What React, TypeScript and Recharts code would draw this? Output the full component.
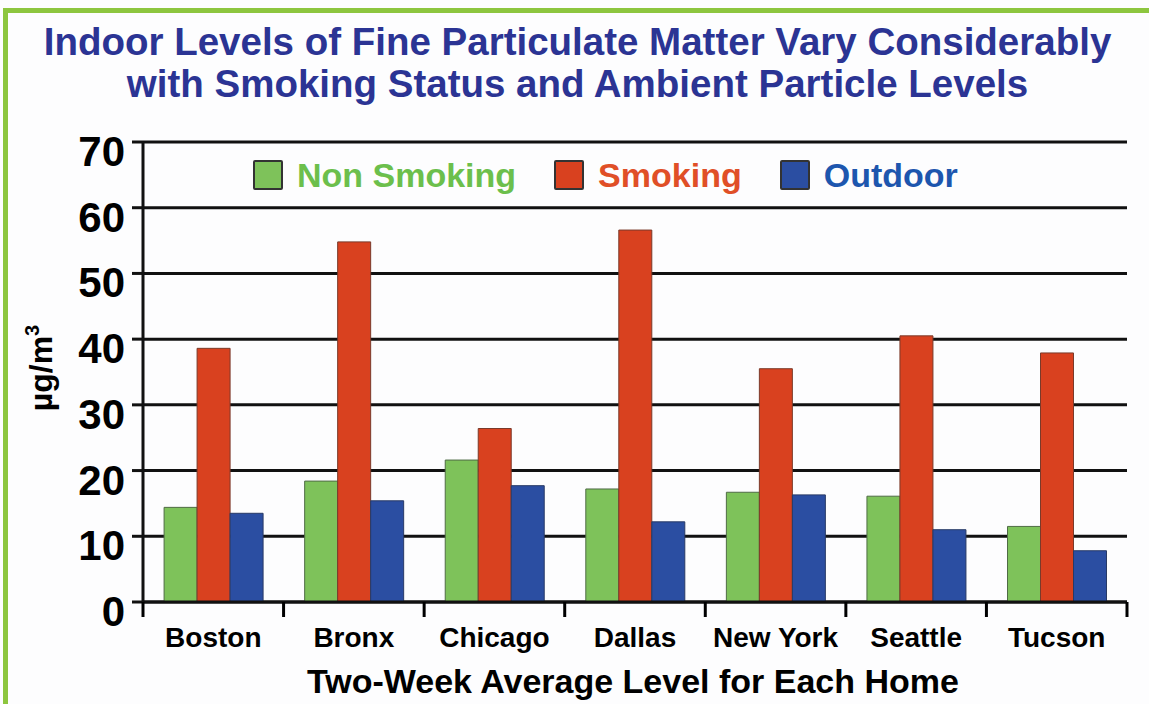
import React from 'react';
import { BarChart, Bar, XAxis, YAxis, CartesianGrid, Legend } from 'recharts';

const cities = ['Boston', 'Bronx', 'Chicago', 'Dallas', 'New York', 'Seattle', 'Tucson'];
const nonSmoking = [14.4, 18.4, 21.6, 17.2, 16.7, 16.1, 11.5];
const smoking = [38.6, 54.8, 26.4, 56.6, 35.5, 40.5, 37.9];
const outdoor = [13.5, 15.4, 17.7, 12.2, 16.3, 11.0, 7.8];
const yTicks = [0, 10, 20, 30, 40, 50, 60, 70];
const seriesNames = ['Non Smoking', 'Smoking', 'Outdoor'];

const data = cities.map((city, i) => ({
  city,
  nonSmoking: nonSmoking[i],
  smoking: smoking[i],
  outdoor: outdoor[i],
}));

const W = 1149;
const H = 704;
const M = { top: 142, right: 22, bottom: 42, left: 0 };
const Y_AXIS_W = 143;
const X_AXIS_H = 60;
const FONT = '"Liberation Sans", Arial, Helvetica, sans-serif';
const BAND = (W - M.left - Y_AXIS_W - M.right) / cities.length;

const fills = ['#7ec25a', '#d9411f', '#2b4ea2'];
const strokes = ['#4f6b45', '#7a3a2a', '#283a66'];
const legendText = ['#6cbf4c', '#e04f27', '#1d56ae'];

const YTick = (props: any) => {
  const { x, y, payload } = props;
  return (
    <text x={x} y={y} dy={24} textAnchor="end" fontSize={42} fontWeight="bold" fill="#000" fontFamily={FONT}>
      {payload.value}
    </text>
  );
};

const XTick = (props: any) => {
  const { x, y, payload, index } = props;
  const left = x - BAND / 2;
  const right = x + BAND / 2;
  return (
    <g>
      <line x1={left} x2={left} y1={y} y2={y + 15} stroke="#000" strokeWidth={3} />
      {index === cities.length - 1 && (
        <line x1={right} x2={right} y1={y} y2={y + 15} stroke="#000" strokeWidth={3} />
      )}
      <text x={x} y={y} dy={45} textAnchor="middle" fontSize={28} fontWeight="bold" fill="#000" fontFamily={FONT}>
        {payload.value}
      </text>
    </g>
  );
};

const LegendContent = (props: any) => {
  const items = [...(props.payload || [])].sort(
    (a: any, b: any) => seriesNames.indexOf(a.value) - seriesNames.indexOf(b.value)
  );
  return (
    <div style={{ display: 'flex', alignItems: 'center', fontFamily: FONT }}>
      {items.map((entry: any) => {
        const i = seriesNames.indexOf(entry.value);
        return (
          <div key={entry.value} style={{ display: 'flex', alignItems: 'center', marginRight: 38 }}>
            <div
              style={{
                width: 30,
                height: 30,
                background: fills[i],
                border: '2px solid #333',
                borderRadius: 2,
                boxSizing: 'border-box',
                marginRight: 14,
              }}
            />
            <span style={{ fontSize: 34, fontWeight: 'bold', color: legendText[i], lineHeight: '34px' }}>
              {entry.value}
            </span>
          </div>
        );
      })}
    </div>
  );
};

const YLabel = () => (
  <text
    x={52}
    y={368}
    transform="rotate(-90 52 368)"
    textAnchor="middle"
    fontSize={32}
    fontWeight="bold"
    fill="#000"
    fontFamily={FONT}
  >
    µg/m
    <tspan fontSize={20} dy={-13}>3</tspan>
  </text>
);

const XLabel = () => (
  <text x={633} y={693} textAnchor="middle" fontSize={34} fontWeight="bold" fill="#000" fontFamily={FONT}>
    Two-Week Average Level for Each Home
  </text>
);

export default function App() {
  return (
    <div
      style={{
        position: 'absolute',
        left: 0,
        top: 0,
        width: W,
        height: H,
        background: '#fdfdfe',
        overflow: 'hidden',
        fontFamily: FONT,
      }}
    >
      <div
        style={{
          position: 'absolute',
          left: 3,
          top: 8,
          width: W,
          height: H,
          borderTop: '5px solid #8dc63f',
          borderLeft: '5px solid #8dc63f',
          boxSizing: 'border-box',
        }}
      />
      <div
        style={{
          position: 'absolute',
          left: 0,
          top: 21,
          width: 1155,
          textAlign: 'center',
          color: '#2b3494',
          fontSize: 38.5,
          fontWeight: 'bold',
          lineHeight: '42px',
          fontFamily: FONT,
        }}
      >
        <div>Indoor Levels of Fine Particulate Matter Vary Considerably</div>
        <div>with Smoking Status and Ambient Particle Levels</div>
      </div>
      <div style={{ position: 'absolute', left: 0, top: 0 }}>
        <BarChart width={W} height={H} data={data} margin={M} barCategoryGap="15%" barGap={0}>
          <CartesianGrid vertical={false} stroke="#111" strokeWidth={3} yAxisId="left" />
          <XAxis
            dataKey="city"
            height={X_AXIS_H}
            interval={0}
            axisLine={{ stroke: '#111', strokeWidth: 3 }}
            tickLine={false}
            tickSize={0}
            tickMargin={0}
            tick={<XTick />}
            label={<XLabel />}
          />
          <YAxis
            yAxisId="left"
            width={Y_AXIS_W}
            domain={[0, 70]}
            ticks={yTicks}
            interval={0}
            axisLine={{ stroke: '#111', strokeWidth: 3 }}
            tickLine={{ stroke: '#111', strokeWidth: 3 }}
            tickSize={11}
            tickMargin={7}
            tick={<YTick />}
            label={<YLabel />}
          />
          <YAxis
            yAxisId="right"
            orientation="right"
            width={0}
            domain={[0, 70]}
            ticks={yTicks}
            axisLine={{ stroke: '#111', strokeWidth: 3 }}
            tickLine={false}
            tick={false}
          />
          <Legend
            layout="horizontal"
            verticalAlign="middle"
            align="center"
            content={<LegendContent />}
            wrapperStyle={{ top: 158, left: 253, width: 760, height: 32 }}
          />
          <Bar yAxisId="left" dataKey="nonSmoking" name={seriesNames[0]} fill={fills[0]} stroke={strokes[0]} strokeWidth={1} isAnimationActive={false} />
          <Bar yAxisId="left" dataKey="smoking" name={seriesNames[1]} fill={fills[1]} stroke={strokes[1]} strokeWidth={1} isAnimationActive={false} />
          <Bar yAxisId="left" dataKey="outdoor" name={seriesNames[2]} fill={fills[2]} stroke={strokes[2]} strokeWidth={1} isAnimationActive={false} />
        </BarChart>
      </div>
    </div>
  );
}
